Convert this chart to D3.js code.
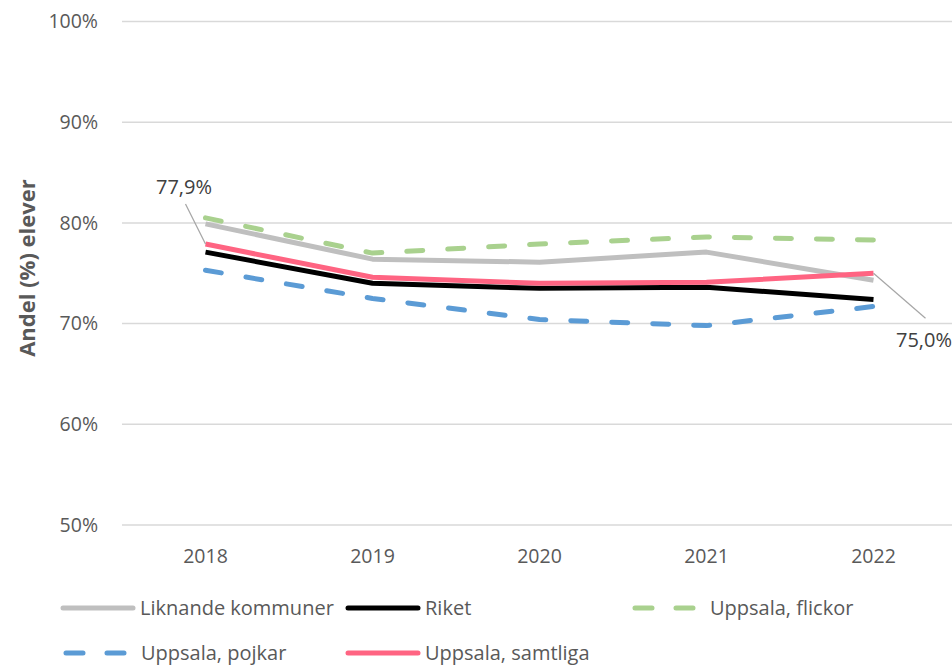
<!DOCTYPE html>
<html>
<head>
<meta charset="utf-8">
<script src="https://cdn.jsdelivr.net/npm/d3@7"></script>
<style>
  body { margin: 0; background: #fff; }
  svg { display: block; font-family: "Open Sans", "DejaVu Sans", sans-serif; }
</style>
</head>
<body>
<svg id="chart"></svg>
<script>
const years = ["2018", "2019", "2020", "2021", "2022"];
const liknande = [79.9, 76.4, 76.1, 77.1, 74.3];
const riket = [77.1, 74.0, 73.5, 73.6, 72.4];
const flickor = [80.5, 77.0, 77.9, 78.6, 78.3];
const pojkar = [75.3, 72.5, 70.4, 69.8, 71.7];
const samtliga = [77.9, 74.6, 74.0, 74.1, 75.0];
const yTicks = [50, 60, 70, 80, 90, 100];

const series = [
    {name: "Liknande kommuner", values: liknande, color: "#bfbfbf", dash: null},
    {name: "Riket", values: riket, color: "#000000", dash: null},
    {name: "Uppsala, flickor", values: flickor, color: "#a9d18e", dash: "16,25"},
    {name: "Uppsala, pojkar", values: pojkar, color: "#5b9bd5", dash: "16,25"},
    {name: "Uppsala, samtliga", values: samtliga, color: "#ff6482", dash: null}
];

const width = 952;
const height = 666;

const svg = d3.select("#chart")
    .attr("width", width)
    .attr("height", height)
    .attr("viewBox", [0, 0, width, height]);

const x = d3.scaleBand()
    .domain(years)
    .range([122, 957]);

const y = d3.scaleLinear()
    .domain([50, 100])
    .range([525, 21.5]);

const fmt = v => v.toFixed(1).replace(".", ",") + "%";

// gridlines + y labels
svg.append("g")
    .selectAll("line")
    .data(yTicks)
    .join("line")
    .attr("x1", 122)
    .attr("x2", width)
    .attr("y1", d => y(d))
    .attr("y2", d => y(d))
    .attr("stroke", "#d9d9d9")
    .attr("stroke-width", 1.5);

svg.append("g")
    .selectAll("text")
    .data(yTicks)
    .join("text")
    .attr("x", 98)
    .attr("y", d => y(d))
    .attr("dy", "0.35em")
    .attr("text-anchor", "end")
    .style("font-size", "19.5px")
    .style("fill", "#595959")
    .text(d => d + "%");

// x labels
svg.append("g")
    .selectAll("text")
    .data(years)
    .join("text")
    .attr("x", d => x(d) + x.bandwidth() / 2)
    .attr("y", 556)
    .attr("dy", "0.35em")
    .attr("text-anchor", "middle")
    .style("font-size", "19.5px")
    .style("fill", "#595959")
    .text(d => d);

// axis title
svg.append("text")
    .attr("transform", "translate(27,268) rotate(-90)")
    .attr("text-anchor", "middle")
    .attr("dy", "0.35em")
    .style("font-size", "22px")
    .style("font-weight", "bold")
    .style("fill", "#595959")
    .text("Andel (%) elever");

const line = d3.line()
    .x((d, i) => x(years[i]) + x.bandwidth() / 2)
    .y(d => y(d));

svg.append("g")
    .selectAll("path")
    .data(series)
    .join("path")
    .attr("d", d => line(d.values))
    .attr("fill", "none")
    .attr("stroke", d => d.color)
    .attr("stroke-width", 5)
    .attr("stroke-linejoin", "round")
    .attr("stroke-linecap", d => d.dash ? "round" : "butt")
    .attr("stroke-dasharray", d => d.dash);

// data labels with leader lines
const labels = [
    {i: 0, lx: 184, ly: 187, dx: -20, dy: -40},
    {i: 4, lx: 924, ly: 340, dx: 52, dy: 45}
];
const cx = i => x(years[i]) + x.bandwidth() / 2;

svg.append("g")
    .selectAll("line")
    .data(labels)
    .join("line")
    .attr("x1", d => cx(d.i))
    .attr("y1", d => y(samtliga[d.i]))
    .attr("x2", d => cx(d.i) + d.dx)
    .attr("y2", d => y(samtliga[d.i]) + d.dy)
    .attr("stroke", "#a6a6a6")
    .attr("stroke-width", 1.2);

svg.append("g")
    .selectAll("text")
    .data(labels)
    .join("text")
    .attr("x", d => d.lx)
    .attr("y", d => d.ly)
    .attr("dy", "0.35em")
    .attr("text-anchor", "middle")
    .style("font-size", "20px")
    .style("fill", "#404040")
    .text(d => fmt(samtliga[d.i]));

// legend
const legendPos = [
    {x: 63, y: 608},
    {x: 348, y: 608},
    {x: 632, y: 608},
    {x: 63, y: 653},
    {x: 348, y: 653}
];

const legend = svg.append("g")
    .selectAll("g")
    .data(series)
    .join("g")
    .attr("transform", (d, i) => `translate(${legendPos[i].x},${legendPos[i].y})`);

legend.append("line")
    .attr("x1", d => d.dash ? 3 : 0)
    .attr("x2", d => d.dash ? 64 : 70)
    .attr("stroke", d => d.color)
    .attr("stroke-width", 5)
    .attr("stroke-linecap", "round")
    .attr("stroke-dasharray", d => d.dash ? "17,24" : null);

legend.append("text")
    .attr("x", d => d.dash ? 78 : 77)
    .attr("dy", "0.35em")
    .style("font-size", "20px")
    .style("fill", "#595959")
    .text(d => d.name);
</script>
</body>
</html>
